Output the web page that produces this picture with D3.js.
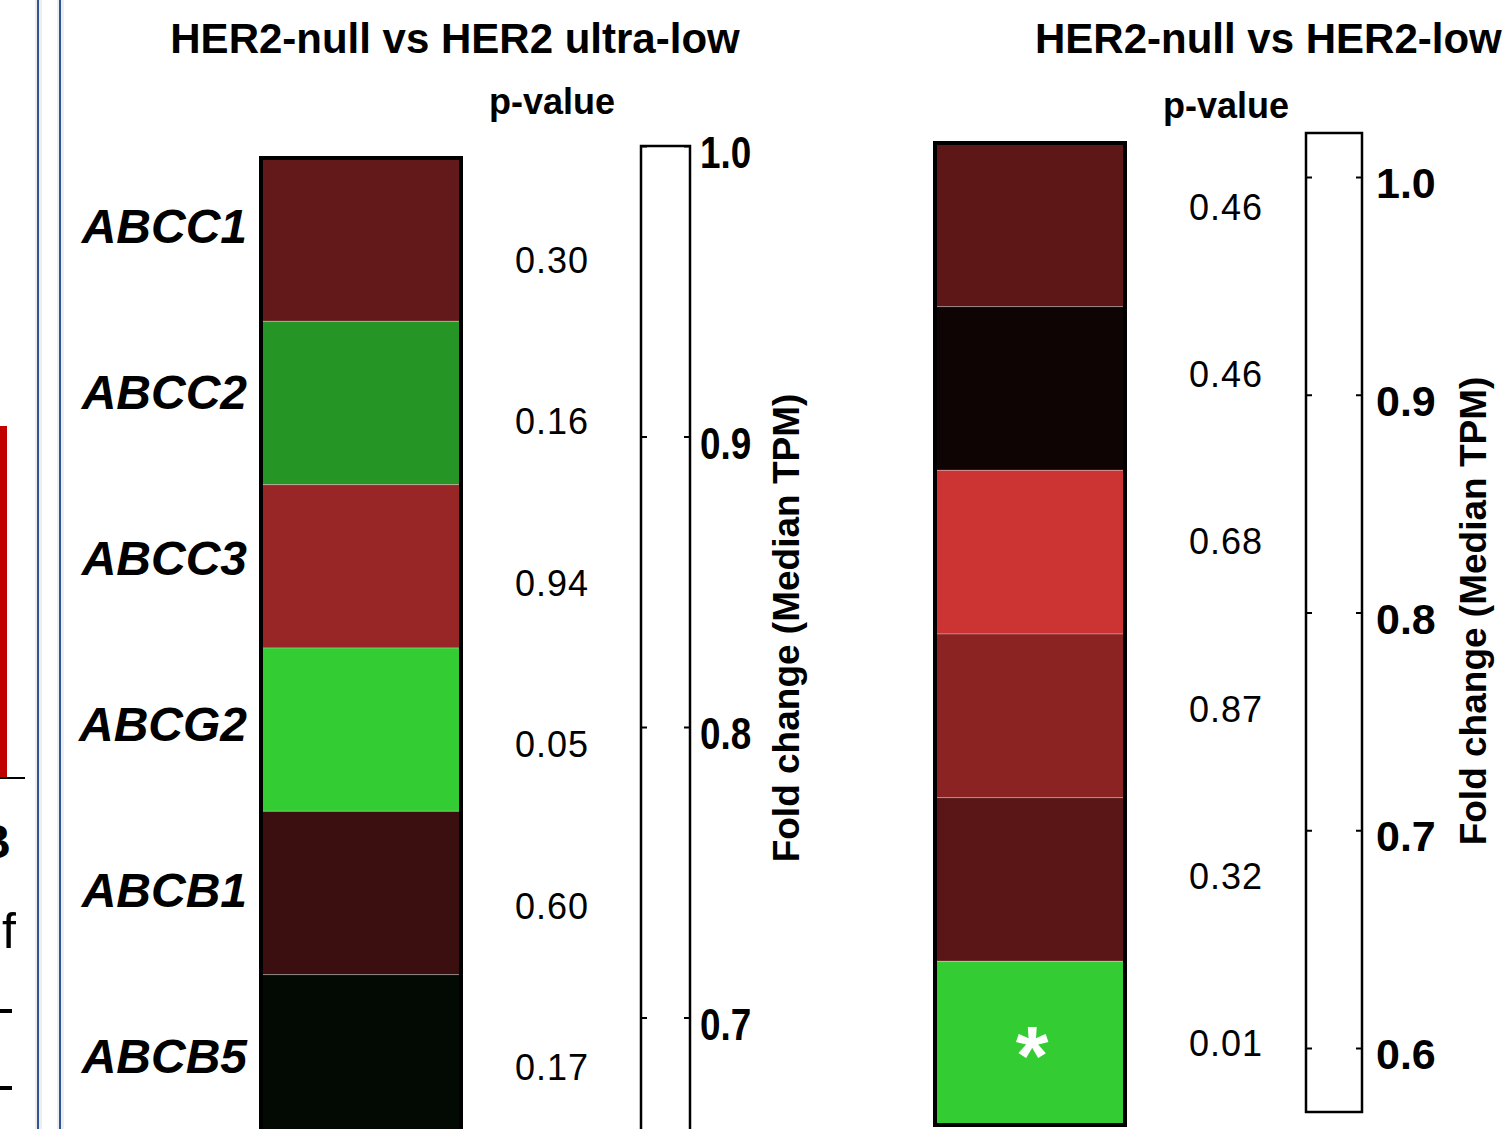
<!DOCTYPE html>
<html>
<head>
<meta charset="utf-8">
<script src="https://cdn.jsdelivr.net/npm/d3@7"></script>
<style>
  body { margin: 0; background: #fff; }
  text { font-family: "Liberation Sans", Arial, sans-serif; }
</style>
</head>
<body>
<div id="graph"></div>
<script>
// genes shown in both panels
const genes = ["ABCC1", "ABCC2", "ABCC3", "ABCG2", "ABCB1", "ABCB5"];

// scaled fold change (-1 green .. 0 black .. +1 red)
const ultraLowValues = [0.485, -0.73, 0.745, -1.0, 0.29, -0.05];
const lowValues = [0.46, 0.07, 1.0, 0.68, 0.44, -1.0];

// p-values printed next to each cell
const ultraLowP = ["0.30", "0.16", "0.94", "0.05", "0.60", "0.17"];
const lowP = ["0.46", "0.46", "0.68", "0.87", "0.32", "0.01"];
const lowSignif = [false, false, false, false, false, true];

// colour bar tick labels
const ultraLowTicks = [1.0, 0.9, 0.8, 0.7];
const lowTicks = [1.0, 0.9, 0.8, 0.7, 0.6];

const W = 1505, H = 1129;

const svg = d3.select("#graph")
  .append("svg")
    .attr("width", W)
    .attr("height", H);

svg.append("rect").attr("width", W).attr("height", H).attr("fill", "#fff");

// colour scale for the cells
var color = d3.scaleLinear()
  .domain([-1, 0, 1])
  .range(["#33CC33", "#000000", "#CC3333"]);

// --- bits of the neighbouring panel cut off at the left edge
var edge = svg.append("g");
edge.append("rect").attr("x", 0).attr("y", 426).attr("width", 7).attr("height", 352).attr("fill", "#C00000");
edge.append("line").attr("x1", 0).attr("x2", 25).attr("y1", 778).attr("y2", 778)
  .attr("stroke", "#000").attr("stroke-width", 2);
edge.append("text").attr("x", 11).attr("y", 858).attr("text-anchor", "end")
  .style("font-size", "48px").style("font-weight", "bold").text("B");
edge.append("text").attr("x", 16).attr("y", 948).attr("text-anchor", "end")
  .style("font-size", "50px").text("of");
[1011, 1088].forEach(function(y) {
  edge.append("line").attr("x1", 0).attr("x2", 12).attr("y1", y).attr("y2", y)
    .attr("stroke", "#000").attr("stroke-width", 4);
});
[38, 60].forEach(function(x) {
  edge.append("rect").attr("x", x - 3).attr("y", 0).attr("width", 7).attr("height", H)
    .attr("fill", "#eeeeee");
  edge.append("line").attr("x1", x).attr("x2", x).attr("y1", 0).attr("y2", H)
    .attr("stroke", "#2F5597").attr("stroke-width", 2);
});

// draws one panel: heatmap column, p-values, colour bar
function panel(cfg) {
  var g = svg.append("g");

  g.append("text")
    .attr("x", cfg.titleX).attr("y", 53)
    .attr("text-anchor", cfg.titleAnchor)
    .style("font-size", "42px").style("font-weight", "bold")
    .text(cfg.title);

  g.append("text")
    .attr("x", cfg.pX).attr("y", cfg.pTitleY)
    .attr("text-anchor", "middle")
    .style("font-size", "36px").style("font-weight", "bold")
    .text("p-value");

  var y = d3.scaleBand()
    .domain(genes)
    .range(cfg.cellRange);

  g.selectAll("rect.cell")
    .data(genes)
    .enter()
    .append("rect")
      .attr("class", "cell")
      .attr("x", cfg.cellX)
      .attr("y", function(d) { return y(d); })
      .attr("width", cfg.cellW)
      .attr("height", y.bandwidth())
      .attr("fill", function(d, i) { return color(cfg.values[i]); })
      .attr("stroke", "rgba(255,255,255,0.28)")
      .attr("stroke-width", 1);

  g.append("rect")
    .attr("x", cfg.cellX).attr("y", cfg.cellRange[0])
    .attr("width", cfg.cellW).attr("height", cfg.cellRange[1] - cfg.cellRange[0])
    .attr("fill", "none").attr("stroke", "#000").attr("stroke-width", 4);

  if (cfg.signif) {
    g.selectAll("text.star")
      .data(genes.filter(function(d, i) { return cfg.signif[i]; }))
      .enter()
      .append("text")
        .attr("class", "star")
        .attr("x", cfg.cellX + cfg.cellW / 2 + 2)
        .attr("y", function(d) { return y(d) + y.bandwidth() / 2 + 42; })
        .attr("text-anchor", "middle")
        .attr("fill", "#fff")
        .style("font-size", "84px").style("font-weight", "bold")
        .text("*");
  }

  if (cfg.labels) {
    var ly = d3.scalePoint().domain(genes).range(cfg.labelRange);
    g.selectAll("text.gene")
      .data(genes)
      .enter()
      .append("text")
        .attr("class", "gene")
        .attr("x", 247)
        .attr("y", function(d) { return ly(d); })
        .attr("dy", "0.36em")
        .attr("text-anchor", "end")
        .style("font-size", "48px").style("font-weight", "bold").style("font-style", "italic")
        .text(function(d) { return d; });
  }

  var py = d3.scalePoint().domain(genes).range(cfg.pRange);
  g.selectAll("text.pval")
    .data(genes)
    .enter()
    .append("text")
      .attr("class", "pval")
      .attr("x", cfg.pX)
      .attr("y", function(d) { return py(d); })
      .attr("dy", "0.36em")
      .attr("text-anchor", "middle")
      .style("font-size", "36px")
      .style("letter-spacing", "1px")
      .text(function(d, i) { return cfg.pvals[i]; });

  // colour bar (left blank, as in the figure)
  var s = d3.scaleLinear().domain([1.0, 0.9]).range(cfg.barTicksY);

  g.append("rect")
    .attr("x", cfg.barX).attr("y", cfg.barY[0])
    .attr("width", cfg.barW).attr("height", cfg.barY[1] - cfg.barY[0])
    .attr("fill", "#fff").attr("stroke", "#000").attr("stroke-width", 2.5);

  var right = g.append("g")
    .attr("transform", "translate(" + (cfg.barX + cfg.barW) + ",0)")
    .call(d3.axisRight(s).tickValues(cfg.ticks).tickFormat(d3.format(".1f"))
      .tickSizeInner(-6).tickSizeOuter(0).tickPadding(cfg.tickPad));
  right.select(".domain").remove();
  right.selectAll(".tick line").attr("stroke", "#000").attr("stroke-width", 2);
  right.selectAll(".tick text")
    .attr("x", cfg.tickPad / cfg.tickStretch)
    .attr("dy", "0.48em")
    .attr("transform", "scale(" + cfg.tickStretch + ",1)")
    .attr("fill", "#000")
    .style("font-size", cfg.tickSize)
    .style("font-weight", "bold");

  var left = g.append("g")
    .attr("transform", "translate(" + cfg.barX + ",0)")
    .call(d3.axisLeft(s).tickValues(cfg.ticks).tickFormat("")
      .tickSizeInner(-6).tickSizeOuter(0));
  left.select(".domain").remove();
  left.selectAll(".tick line").attr("stroke", "#000").attr("stroke-width", 2);

  g.append("text")
    .attr("transform", "translate(" + cfg.axisTitleX + "," + cfg.axisTitleY + ") rotate(-90)")
    .attr("text-anchor", "middle")
    .style("font-size", "37px").style("font-weight", "bold")
    .text("Fold change (Median TPM)");
}

panel({
  title: "HER2-null vs HER2 ultra-low", titleX: 455, titleAnchor: "middle",
  pX: 552, pTitleY: 114, pRange: [260, 1067], pvals: ultraLowP,
  values: ultraLowValues, cellX: 261, cellW: 200, cellRange: [158, 1138],
  labels: true, labelRange: [226, 1056],
  barX: 641, barW: 49, barY: [146, 1170], barTicksY: [146, 436.5],
  ticks: ultraLowTicks, tickPad: 10, tickStretch: 0.82, tickSize: "45px",
  axisTitleX: 799, axisTitleY: 628
});

panel({
  title: "HER2-null vs HER2-low", titleX: 1035, titleAnchor: "start",
  pX: 1226, pTitleY: 118, pRange: [207, 1043], pvals: lowP,
  values: lowValues, cellX: 935, cellW: 190, cellRange: [143, 1125],
  labels: false, signif: lowSignif,
  barX: 1306, barW: 56, barY: [133, 1112], barTicksY: [177, 394.75],
  ticks: lowTicks, tickPad: 14, tickStretch: 1, tickSize: "43px",
  axisTitleX: 1486, axisTitleY: 611
});
</script>
</body>
</html>
